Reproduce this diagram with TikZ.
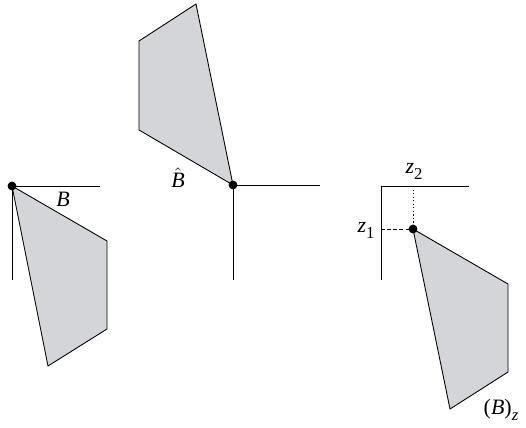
\documentclass[tikz,border=0pt]{standalone}
\usepackage{fontspec}
\setmainfont{Liberation Serif}
\usetikzlibrary{arrows.meta}
\definecolor{conegray}{RGB}{211,213,216}
\newcommand{\lowsub}[1]{\raisebox{-0.6ex}{\fontsize{9.5}{10}\selectfont #1}}
\tikzset{
  axis/.style={line width=0.5pt},
  cone/.style={draw, line width=0.5pt, fill=conegray, line join=miter},
  apex/.style={fill=black},
  lbl/.style={font=\fontsize{12.5}{14}\selectfont, inner sep=0pt}
}
\begin{document}
\begin{tikzpicture}[x=0.02cm, y=-0.02cm]
  \useasboundingbox (0, 0) rectangle (526, 428);
  % the set B
  \coordinate (b0) at (12, 186);
  \draw[cone] (b0) -- (107, 241) -- (107, 329) -- (48, 366) -- cycle;
  \draw[axis] (100, 186) -- (b0) -- (12, 280);
  \draw[apex] (b0) circle (4);
  \node[lbl] (bname) at (63, 199) {\textit{B}};
  % the reflected set
  \coordinate (h0) at (233, 185);
  \draw[cone] (h0) -- (139, 130) -- (139, 41) -- (196, 4) -- cycle;
  \draw[axis] (320, 185) -- (h0) -- (233, 280);
  \draw[apex] (h0) circle (4);
  \node[lbl] (hname) at (178, 178) {$\hat{\mbox{\textit{B}}}$};
  % the translated set
  \coordinate (o) at (381, 186);
  \coordinate (z0) at (413, 229);
  \coordinate (zx) at (413, 186);
  \coordinate (zy) at (381, 229);
  \draw[cone] (z0) -- (508, 284) -- (508, 372) -- (450, 409) -- cycle;
  \draw[axis] (469, 186) -- (o) -- (381, 280);
  \draw[dash pattern=on 0.8pt off 1.2pt, line width=0.5pt] (zx) -- (z0);
  \draw[dash pattern=on 2pt off 1.5pt, line width=0.5pt] (zy) -- (z0);
  \draw[apex] (z0) circle (4);
  \node[lbl] (ztwo) at (414, 171) {\textit{z}\lowsub{2}};
  \node[lbl] (zone) at (366, 230) {\textit{z}\lowsub{1}};
  \node[lbl] (bz) at (501, 410) {(\textit{B})\lowsub{\textit{z}}};
\end{tikzpicture}
\end{document}
